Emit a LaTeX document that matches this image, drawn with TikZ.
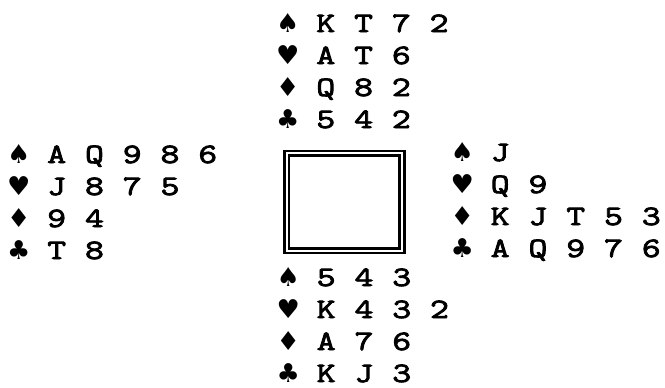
\documentclass[tikz,border=0pt]{standalone}
\usepackage{fontspec}
\usepackage{tikz}
\newfontfamily\handfont{Latin Modern Mono}[FakeStretch=1.31,FakeBold=3]
\newfontfamily\suitfont{DejaVu Sans}
\newcommand{\suit}[1]{\makebox[19.25pt][c]{\suitfont\fontsize{26}{26}\selectfont #1}}
% one hand: name, left, first baseline, spades, hearts, diamonds, clubs
\newcommand{\hand}[7]{%
  \node[row] (#1S) at (#2,#3)    {\suit{♠} #4};
  \node[row] (#1H) at (#2,#3+32) {\suit{♥} #5};
  \node[row] (#1D) at (#2,#3+64) {\suit{♦} #6};
  \node[row] (#1C) at (#2,#3+96) {\suit{♣} #7};
}
\begin{document}
\begin{tikzpicture}[x=1pt,y=-1pt,
                    row/.style={anchor=base west,inner sep=0pt,
                                font=\handfont\fontsize{28}{32}\selectfont},
                    table/.style={draw,double,line width=2.6pt,double distance=2pt,
                                  inner sep=0pt,minimum width=115.3pt,minimum height=97.7pt}]
    \useasboundingbox (0,0) rectangle (665,388);
    \node[table] (tbl) at (344.4,202) {};
    \hand{north}{278}{32}{K T 7 2}{A T 6}{Q 8 2}{5 4 2}
    \hand{west}{8.9}{163}{A Q 9 8 6}{J 8 7 5}{9 4}{T 8}
    \hand{east}{452.4}{161}{J}{Q 9}{K J T 5 3}{A Q 9 7 6}
    \hand{south}{278.4}{286}{5 4 3}{K 4 3 2}{A 7 6}{K J 3}
\end{tikzpicture}
\end{document}
